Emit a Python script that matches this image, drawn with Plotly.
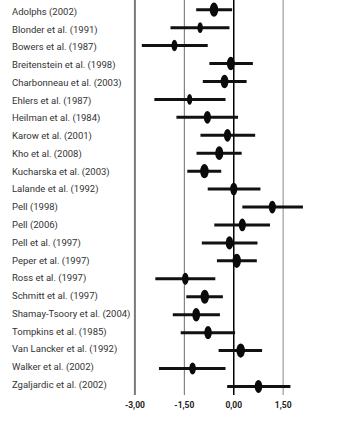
import plotly.graph_objects as go

# Studies, effect sizes with confidence limits, and relative study weights
studies = [
    "Adolphs (2002)", "Blonder et al. (1991)", "Bowers et al. (1987)",
    "Breitenstein et al. (1998)", "Charbonneau et al. (2003)", "Ehlers et al. (1987)",
    "Heilman et al. (1984)", "Karow et al. (2001)", "Kho et al. (2008)",
    "Kucharska et al. (2003)", "Lalande et al. (1992)", "Pell (1998)",
    "Pell (2006)", "Pell et al. (1997)", "Peper et al. (1997)",
    "Ross et al. (1997)", "Schmitt et al. (1997)", "Shamay-Tsoory et al. (2004)",
    "Tompkins et al. (1985)", "Van Lancker et al. (1992)", "Walker et al. (2002)",
    "Zgaljardic et al. (2002)",
]
effect = [-0.60, -1.02, -1.80, -0.09, -0.28, -1.34, -0.80, -0.19, -0.44, -0.89,
          0.00, 1.17, 0.26, -0.13, 0.09, -1.47, -0.88, -1.14, -0.78, 0.21, -1.25, 0.75]
ci_low = [-1.14, -1.92, -2.79, -0.74, -0.94, -2.41, -1.74, -1.01, -1.13, -1.41,
          -0.79, 0.26, -0.59, -0.97, -0.51, -2.38, -1.44, -1.85, -1.61, -0.46, -2.27, -0.20]
ci_high = [-0.05, -0.13, -0.79, 0.58, 0.39, -0.25, 0.13, 0.65, 0.24, -0.38,
           0.81, 2.10, 1.10, 0.72, 0.70, -0.56, -0.33, -0.42, 0.04, 0.86, -0.25, 1.72]
weight = [8.7, 5.5, 6.0, 8.0, 8.0, 5.3, 7.3, 7.3, 8.3, 8.7,
          7.3, 7.3, 7.3, 7.7, 8.7, 6.7, 8.7, 8.0, 7.7, 8.7, 6.7, 7.7]

tick_vals = [-3.0, -1.5, 0.0, 1.5, 3.0]
tick_text = ["-3,00", "-1,50", "0,00", "1,50", "3,00"]

# Figure size leaves room for the page's default 8px body margin
W, H = 328, 410
x_range = [-3.1, 2.86]
x_domain = [127.33 / W, 1.0]
n = len(studies)
y_range = [n - 1 + 0.48, -0.54]
y_domain = [13 / H, 1.0]

rows = list(range(n))
FONT = "Roboto, Liberation Sans, sans-serif"

fig = go.Figure()

# Confidence intervals as heavy horizontal bars
fig.add_trace(go.Scatter(
    x=effect, y=rows, mode="markers",
    marker=dict(size=1, color="rgba(0,0,0,0)"),
    error_x=dict(type="data", symmetric=False,
                 array=[h - e for h, e in zip(ci_high, effect)],
                 arrayminus=[e - l for e, l in zip(effect, ci_low)],
                 thickness=3, width=0, color="#111111"),
    hoverinfo="skip", showlegend=False,
))

# Pixel scale of each axis, used to size the oval point estimates
px_per_x = (x_domain[1] - x_domain[0]) * W / (x_range[1] - x_range[0])
px_per_row = (y_domain[1] - y_domain[0]) * H / (y_range[0] - y_range[1])

shapes = []
# Reference lines
line_styles = {-3.0: ("#7a7a7a", 2), -1.5: ("#6a6a6a", 1), 0.0: ("#000000", 1.5),
               1.5: ("#b0b0b0", 1.5), 3.0: ("#7a7a7a", 2)}
for v in tick_vals:
    c, w = line_styles[v]
    shapes.append(dict(type="line", xref="x", yref="y domain", x0=v, x1=v, y0=0, y1=1,
                       line=dict(color=c, width=w), layer="below"))

# Oval markers for point estimates, size scaled by study weight
for e, r, wt in zip(effect, rows, weight):
    hw = wt / 2 / px_per_x
    hh = (wt + 5.5) / 2 / px_per_row
    shapes.append(dict(type="circle", xref="x", yref="y",
                       x0=e - hw, x1=e + hw, y0=r - hh, y1=r + hh,
                       fillcolor="#0a0a0a", line=dict(width=0), layer="above"))

# Study labels in a left-aligned column; the column is set slightly tighter
# than the rows so it starts a little lower and ends a little higher
label_rows = [0.12 + 0.99 * r for r in rows]
annotations = []
for s, r in zip(studies, label_rows):
    annotations.append(dict(text=s, xref="paper", yref="y", x=4.5 / W, y=r,
                            xanchor="left", yanchor="middle", showarrow=False,
                            borderpad=0,
                            font=dict(family=FONT, size=9.5, color="#333333")))

fig.update_layout(
    width=W, height=H,
    margin=dict(l=0, r=0, t=0, b=0),
    paper_bgcolor="white", plot_bgcolor="white",
    shapes=shapes, annotations=annotations,
    xaxis=dict(range=x_range, domain=x_domain, tickvals=tick_vals,
               ticktext=["<b>" + t + "</b>" for t in tick_text],
               showgrid=False, zeroline=False, showline=False, ticks="",
               ticklabelstandoff=3,
               tickfont=dict(family=FONT, size=8.5, color="#222222")),
    yaxis=dict(range=y_range, domain=y_domain, showgrid=False, zeroline=False,
               showline=False, showticklabels=False, ticks=""),
)

fig.write_html("out.html")
